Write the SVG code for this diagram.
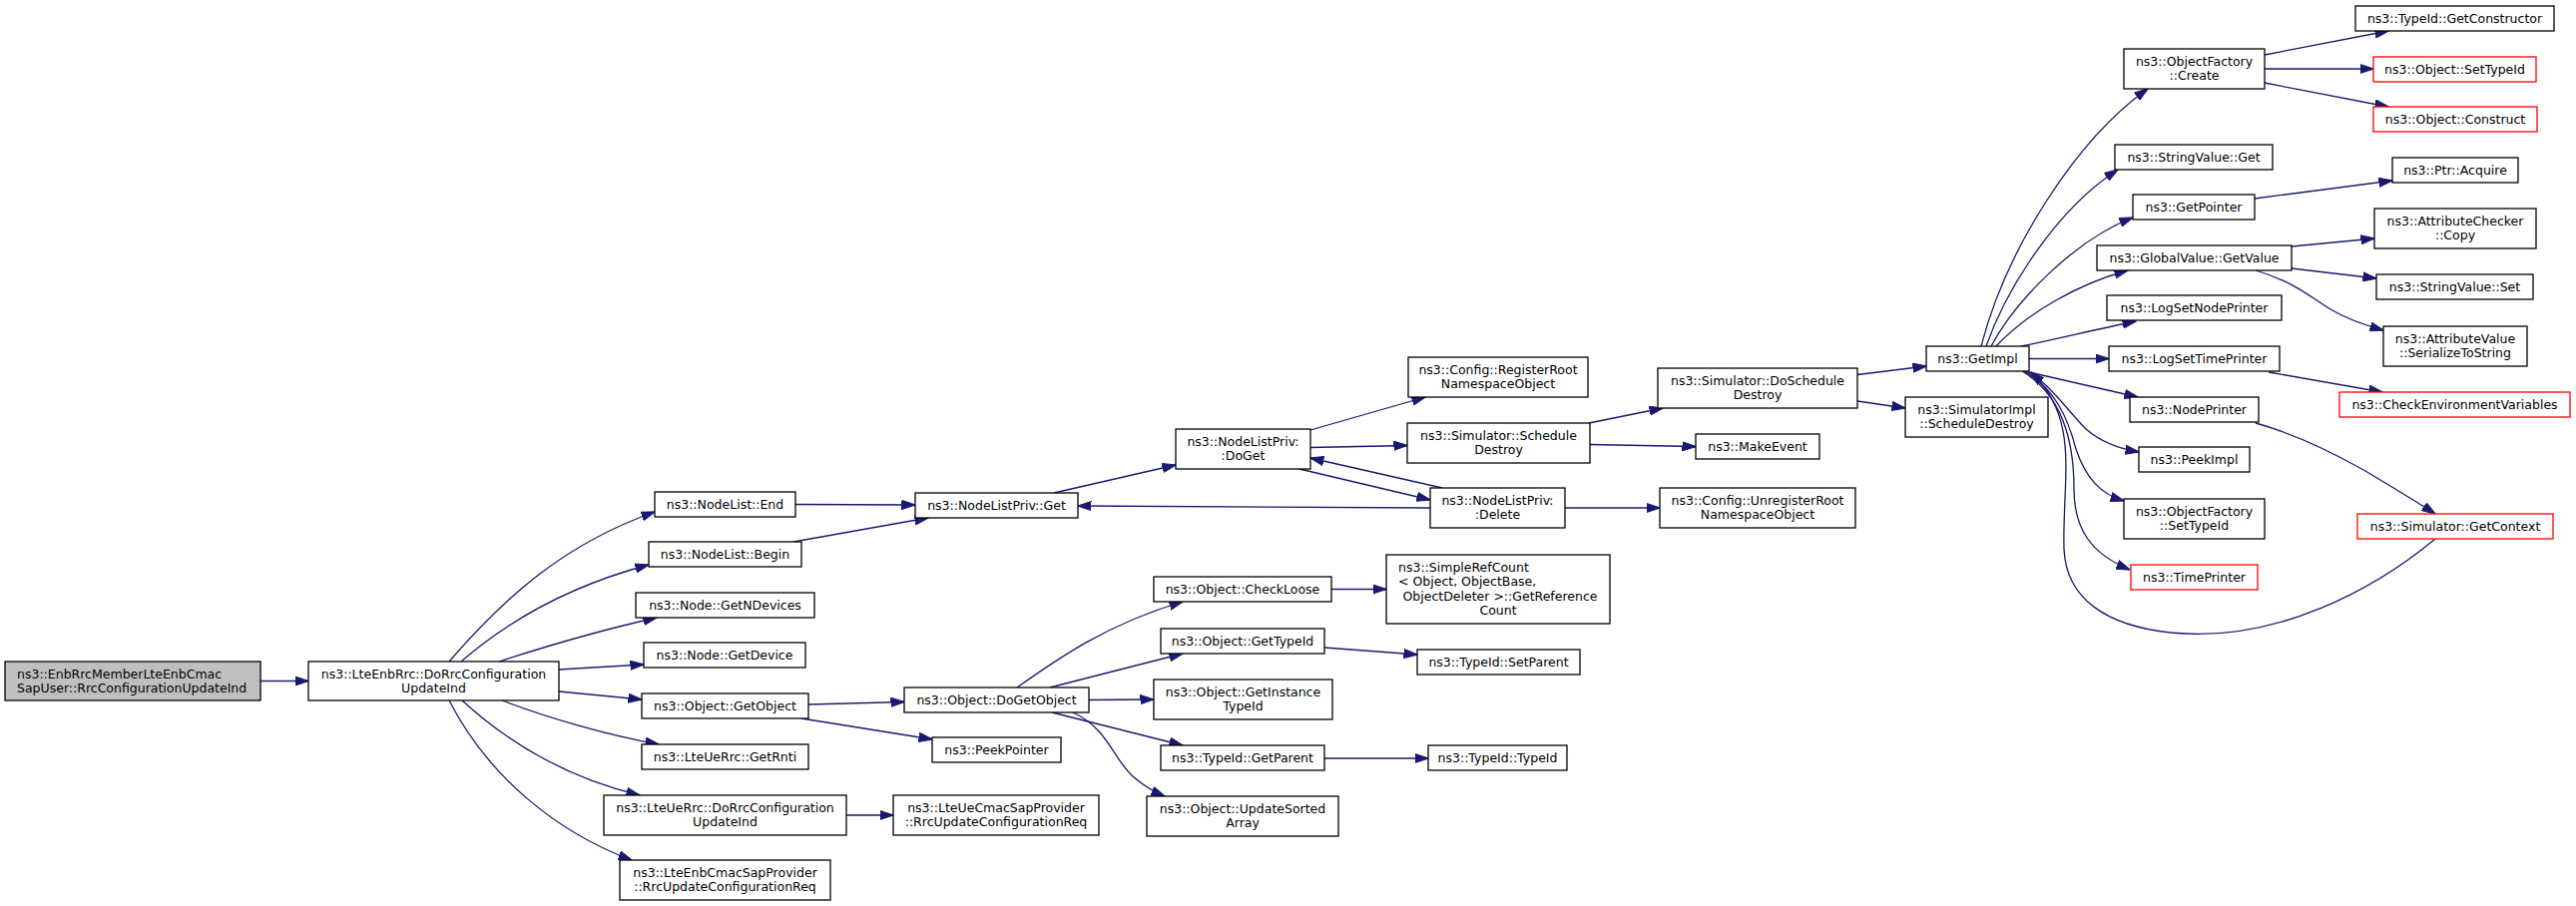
<svg xmlns="http://www.w3.org/2000/svg" width="2581" height="908" viewBox="0 0 2581 908">
<style>
.n rect{fill:#ffffff;stroke:#000000;stroke-width:1.3}
.n.red rect{stroke:#ff0000}
.n.root rect{fill:#bfbfbf}
text{font-family:"DejaVu Sans","Liberation Sans",sans-serif;font-size:12.5px;fill:#000000;text-anchor:middle}
text.l{text-anchor:start}
#edges path{fill:none;stroke:#191970;stroke-width:1.3;marker-end:url(#arr)}
</style>
<defs>
<marker id="arr" markerUnits="userSpaceOnUse" markerWidth="14" markerHeight="10" viewBox="0 0 14 10" refX="13.5" refY="5" orient="auto">
<path d="M0,0.4 L14,5 L0,9.6 z" fill="#191970" stroke="#191970" stroke-width="1"/>
</marker>
</defs>
<rect width="2581" height="908" fill="#ffffff"/>
<g id="edges">
<path d="M261,682.5 L309,682.5"/>
<path d="M450,663 C507,597 566,545 656,513"/>
<path d="M462,663 C500,630 560,590 650,566"/>
<path d="M500,663 C540,650 600,632 658,619"/>
<path d="M560,671 L645,666"/>
<path d="M560,693 L643,701"/>
<path d="M503,702 C550,720 610,737 660,746"/>
<path d="M463,702 C510,745 570,780 641,797"/>
<path d="M450,702 C490,780 560,835 633,862"/>
<path d="M797,505.5 L917,506"/>
<path d="M795,543 L930,519"/>
<path d="M1056,494 L1178,466"/>
<path d="M1313,431 L1428,398"/>
<path d="M1313,448.5 L1410,446.5"/>
<path d="M1302,470 L1433,501"/>
<path d="M1445,489 L1313,459"/>
<path d="M1433,509 L1080,507"/>
<path d="M1592,424 L1666,409"/>
<path d="M1593,445.5 L1699,447.5"/>
<path d="M1568,509 L1663,509"/>
<path d="M1861,375.5 L1930,367"/>
<path d="M1861,402 L1909,409"/>
<path d="M1985,347 C2010,250 2080,140 2152,89"/>
<path d="M1990,347 C2010,290 2060,210 2122,170"/>
<path d="M1995,347 C2020,300 2080,240 2137,218"/>
<path d="M2000,347 C2030,315 2080,285 2132,271"/>
<path d="M2025,347 C2060,340 2100,330 2140,322"/>
<path d="M2033,359.5 L2113,359.5"/>
<path d="M2033,373 L2142,398"/>
<path d="M2030,372 C2055,385 2070,410 2090,430 C2105,443 2125,450 2143,453"/>
<path d="M2028,372 C2060,390 2072,420 2080,450 C2090,480 2105,495 2128,502"/>
<path d="M2026,372 C2065,395 2078,440 2078,490 C2078,530 2095,555 2134,571"/>
<path d="M2440,540 C2380,590 2280,645 2175,634 C2110,627 2070,600 2068,550 C2066,480 2085,420 2035,373"/>
<path d="M2269,55 L2393,31"/>
<path d="M2269,69 L2378,69"/>
<path d="M2269,83 L2393,107"/>
<path d="M2259,199 L2397,181"/>
<path d="M2296,247 L2379,239"/>
<path d="M2296,269 L2381,279"/>
<path d="M2260,271 C2300,283 2315,298 2335,310 C2352,320 2370,326 2388,331"/>
<path d="M2273,373 L2387,393"/>
<path d="M2260,424 C2300,435 2340,455 2370,472 C2400,490 2420,502 2440,515"/>
<path d="M810,706 L906,703.5"/>
<path d="M803,720 L934,741"/>
<path d="M848,817 L895,817"/>
<path d="M1019,689 C1060,660 1110,625 1185,603"/>
<path d="M1052,689 L1185,655"/>
<path d="M1091,701.5 L1156,701"/>
<path d="M1054,714 L1185,747"/>
<path d="M1075,714 C1110,730 1115,760 1135,778 C1145,787 1155,793 1167,798"/>
<path d="M1334,590.5 L1389,590.5"/>
<path d="M1327,649 L1420,656"/>
<path d="M1327,760 L1431,760"/>
</g>
<g id="n1" class="n root"><rect x="5" y="663" width="256" height="39"/><text class="l" x="17" y="679.5">ns3::EnbRrcMemberLteEnbCmac</text><text class="l" x="17" y="693.5">SapUser::RrcConfigurationUpdateInd</text></g>
<g id="n2" class="n"><rect x="309" y="663" width="251" height="39"/><text x="434.5" y="679.5">ns3::LteEnbRrc::DoRrcConfiguration</text><text x="434.5" y="693.5">UpdateInd</text></g>
<g id="n3" class="n"><rect x="656" y="493" width="141" height="25"/><text x="726.5" y="509.5">ns3::NodeList::End</text></g>
<g id="n4" class="n"><rect x="650" y="543" width="153" height="25"/><text x="726.5" y="559.5">ns3::NodeList::Begin</text></g>
<g id="n5" class="n"><rect x="637" y="594" width="179" height="25"/><text x="726.5" y="610.5">ns3::Node::GetNDevices</text></g>
<g id="n6" class="n"><rect x="645" y="644" width="162" height="25"/><text x="726" y="660.5">ns3::Node::GetDevice</text></g>
<g id="n7" class="n"><rect x="643" y="695" width="167" height="25"/><text x="726.5" y="711.5">ns3::Object::GetObject</text></g>
<g id="n8" class="n"><rect x="643" y="746" width="167" height="25"/><text x="726.5" y="762.5">ns3::LteUeRrc::GetRnti</text></g>
<g id="n9" class="n"><rect x="605" y="797" width="243" height="40"/><text x="726.5" y="814">ns3::LteUeRrc::DoRrcConfiguration</text><text x="726.5" y="828">UpdateInd</text></g>
<g id="n10" class="n"><rect x="621" y="862" width="211" height="40"/><text x="726.5" y="879">ns3::LteEnbCmacSapProvider</text><text x="726.5" y="893">::RrcUpdateConfigurationReq</text></g>
<g id="n11" class="n"><rect x="917" y="494" width="163" height="25"/><text x="998.5" y="510.5">ns3::NodeListPriv::Get</text></g>
<g id="n12" class="n"><rect x="1178" y="430" width="135" height="40"/><text x="1245.5" y="447">ns3::NodeListPriv:</text><text x="1245.5" y="461">:DoGet</text></g>
<g id="n13" class="n"><rect x="1411" y="358" width="180" height="40"/><text x="1501" y="375">ns3::Config::RegisterRoot</text><text x="1501" y="389">NamespaceObject</text></g>
<g id="n14" class="n"><rect x="1410" y="424" width="183" height="40"/><text x="1501.5" y="441">ns3::Simulator::Schedule</text><text x="1501.5" y="455">Destroy</text></g>
<g id="n15" class="n"><rect x="1433" y="489" width="135" height="40"/><text x="1500.5" y="506">ns3::NodeListPriv:</text><text x="1500.5" y="520">:Delete</text></g>
<g id="n16" class="n"><rect x="1661" y="369" width="200" height="40"/><text x="1761" y="386">ns3::Simulator::DoSchedule</text><text x="1761" y="400">Destroy</text></g>
<g id="n17" class="n"><rect x="1699" y="435" width="124" height="25"/><text x="1761" y="451.5">ns3::MakeEvent</text></g>
<g id="n18" class="n"><rect x="1663" y="489" width="196" height="40"/><text x="1761" y="506">ns3::Config::UnregisterRoot</text><text x="1761" y="520">NamespaceObject</text></g>
<g id="n19" class="n"><rect x="1930" y="347" width="103" height="25"/><text x="1981.5" y="363.5">ns3::GetImpl</text></g>
<g id="n20" class="n"><rect x="1909" y="398" width="143" height="40"/><text x="1980.5" y="415">ns3::SimulatorImpl</text><text x="1980.5" y="429">::ScheduleDestroy</text></g>
<g id="n21" class="n"><rect x="2128" y="49" width="141" height="40"/><text x="2198.5" y="66">ns3::ObjectFactory</text><text x="2198.5" y="80">::Create</text></g>
<g id="n22" class="n"><rect x="2119" y="145" width="158" height="25"/><text x="2198" y="161.5">ns3::StringValue::Get</text></g>
<g id="n23" class="n"><rect x="2137" y="195" width="122" height="25"/><text x="2198" y="211.5">ns3::GetPointer</text></g>
<g id="n24" class="n"><rect x="2101" y="246" width="195" height="25"/><text x="2198.5" y="262.5">ns3::GlobalValue::GetValue</text></g>
<g id="n25" class="n"><rect x="2111" y="296" width="175" height="25"/><text x="2198.5" y="312.5">ns3::LogSetNodePrinter</text></g>
<g id="n26" class="n"><rect x="2113" y="347" width="171" height="25"/><text x="2198.5" y="363.5">ns3::LogSetTimePrinter</text></g>
<g id="n27" class="n"><rect x="2134" y="398" width="129" height="25"/><text x="2198.5" y="414.5">ns3::NodePrinter</text></g>
<g id="n28" class="n"><rect x="2143" y="448" width="111" height="25"/><text x="2198.5" y="464.5">ns3::PeekImpl</text></g>
<g id="n29" class="n"><rect x="2128" y="500" width="141" height="40"/><text x="2198.5" y="517">ns3::ObjectFactory</text><text x="2198.5" y="531">::SetTypeId</text></g>
<g id="n30" class="n red"><rect x="2135" y="566" width="127" height="25"/><text x="2198.5" y="582.5">ns3::TimePrinter</text></g>
<g id="n31" class="n"><rect x="2360" y="6" width="199" height="25"/><text x="2459.5" y="22.5">ns3::TypeId::GetConstructor</text></g>
<g id="n32" class="n red"><rect x="2378" y="57" width="163" height="25"/><text x="2459.5" y="73.5">ns3::Object::SetTypeId</text></g>
<g id="n33" class="n red"><rect x="2378" y="107" width="164" height="25"/><text x="2460" y="123.5">ns3::Object::Construct</text></g>
<g id="n34" class="n"><rect x="2397" y="158" width="126" height="25"/><text x="2460" y="174.5">ns3::Ptr::Acquire</text></g>
<g id="n35" class="n"><rect x="2379" y="209" width="162" height="40"/><text x="2460" y="226">ns3::AttributeChecker</text><text x="2460" y="240">::Copy</text></g>
<g id="n36" class="n"><rect x="2381" y="275" width="157" height="25"/><text x="2459.5" y="291.5">ns3::StringValue::Set</text></g>
<g id="n37" class="n"><rect x="2388" y="327" width="144" height="40"/><text x="2460" y="344">ns3::AttributeValue</text><text x="2460" y="358">::SerializeToString</text></g>
<g id="n38" class="n red"><rect x="2344" y="393" width="231" height="25"/><text x="2459.5" y="409.5">ns3::CheckEnvironmentVariables</text></g>
<g id="n39" class="n red"><rect x="2362" y="515" width="196" height="25"/><text x="2460" y="531.5">ns3::Simulator::GetContext</text></g>
<g id="n40" class="n"><rect x="1156" y="578" width="178" height="25"/><text x="1245" y="594.5">ns3::Object::CheckLoose</text></g>
<g id="n41" class="n"><rect x="1163" y="630" width="164" height="25"/><text x="1245" y="646.5">ns3::Object::GetTypeId</text></g>
<g id="n42" class="n"><rect x="1156" y="681" width="179" height="40"/><text x="1245.5" y="698">ns3::Object::GetInstance</text><text x="1245.5" y="712">TypeId</text></g>
<g id="n43" class="n"><rect x="1163" y="747" width="164" height="25"/><text x="1245" y="763.5">ns3::TypeId::GetParent</text></g>
<g id="n44" class="n"><rect x="1149" y="798" width="192" height="40"/><text x="1245" y="815">ns3::Object::UpdateSorted</text><text x="1245" y="829">Array</text></g>
<g id="n45" class="n"><rect x="906" y="689" width="185" height="25"/><text x="998.5" y="705.5">ns3::Object::DoGetObject</text></g>
<g id="n46" class="n"><rect x="934" y="739" width="129" height="25"/><text x="998.5" y="755.5">ns3::PeekPointer</text></g>
<g id="n47" class="n"><rect x="895" y="797" width="206" height="40"/><text x="998" y="814">ns3::LteUeCmacSapProvider</text><text x="998" y="828">::RrcUpdateConfigurationReq</text></g>
<g id="n48" class="n"><rect x="1389" y="556" width="224" height="69"/><text class="l" x="1401" y="572.5">ns3::SimpleRefCount</text><text class="l" x="1401" y="587">&lt; Object, ObjectBase,</text><text x="1503" y="601.5">ObjectDeleter &gt;::GetReference</text><text x="1501" y="616">Count</text></g>
<g id="n49" class="n"><rect x="1420" y="651" width="163" height="25"/><text x="1501.5" y="667.5">ns3::TypeId::SetParent</text></g>
<g id="n50" class="n"><rect x="1431" y="747" width="139" height="25"/><text x="1500.5" y="763.5">ns3::TypeId::TypeId</text></g>
</svg>
